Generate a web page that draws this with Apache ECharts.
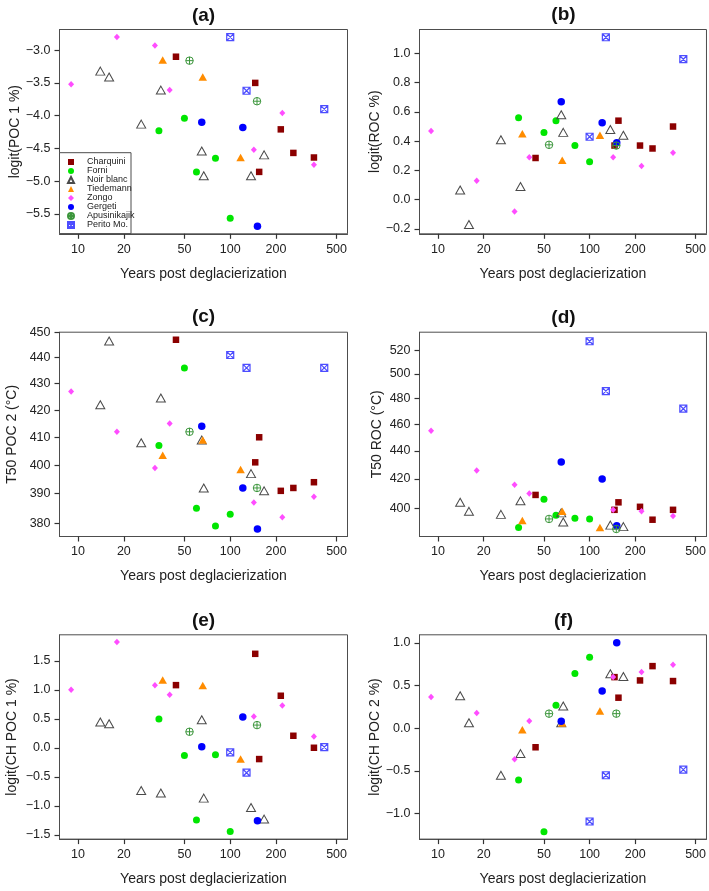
<!DOCTYPE html>
<html><head><meta charset="utf-8">
<script src="https://cdn.jsdelivr.net/npm/echarts@6/dist/echarts.min.js"></script>
<style>html,body{margin:0;padding:0;background:#fff}#c{width:709px;height:891px}</style>
</head><body><div id="c"></div>
<script>
// ---------- DATA ----------
const sites = ['Charquini', 'Forni', 'Noir blanc', 'Tiedemann', 'Zongo', 'Gergeti', 'Apusinikajik', 'Perito Mo.'];

// years post deglacierization per site
const xCharquini = [44, 146, 155, 215, 260, 355];
const xForni = [34, 50, 60, 80, 100];
const xNoirBlanc = [14, 16, 26, 35, 65, 67, 137, 167];
const xTiedemann = [36, 66, 117];
const xZongo = [9, 18, 32, 40, 143, 220, 355];
const xGergeti = [65, 121, 151];
const xApusinikajik = [54, 150];
const xPerito = [100, 128, 415];

// (a) logit(POC 1 %)
const aCharquini = [-3.10, -3.50, -4.86, -4.21, -4.57, -4.64];
const aForni = [-4.23, -4.04, -4.86, -4.65, -5.57];
const aNoirBlanc = [-3.32, -3.41, -4.13, -3.61, -4.54, -4.92, -4.92, -4.60];
const aTiedemann = [-3.15, -3.41, -4.64];
const aZongo = [-3.52, -2.80, -2.93, -3.61, -4.52, -3.96, -4.75];
const aGergeti = [-4.10, -4.18, -5.69];
const aApusinikajik = [-3.16, -3.78];
const aPerito = [-2.80, -3.62, -3.90];

// (b) logit(ROC %)
const bCharquini = [0.285, 0.37, 0.54, 0.37, 0.35, 0.50];
const bForni = [0.56, 0.46, 0.54, 0.37, 0.26];
const bNoirBlanc = [0.066, -0.17, 0.41, 0.09, 0.58, 0.46, 0.48, 0.44];
const bTiedemann = [0.45, 0.27, 0.44];
const bZongo = [0.47, 0.13, -0.08, 0.29, 0.29, 0.23, 0.32];
const bGergeti = [0.67, 0.525, 0.39];
const bApusinikajik = [0.375, 0.37];
const bPerito = [0.43, 1.11, 0.96];

// (c) T50 POC 2 (°C)
const cCharquini = [447, 401, 410, 391, 392, 394];
const cForni = [407, 436, 385, 379, 383];
const cNoirBlanc = [422, 446.5, 408, 424.5, 409, 392, 397, 391];
const cTiedemann = [403.5, 409, 398.5];
const cZongo = [427, 412, 399, 415, 387, 382, 389];
const cGergeti = [414, 392, 378];
const cApusinikajik = [412, 392];
const cPerito = [441, 436, 436];

// (d) T50 ROC (°C)
const dCharquini = [409, 399, 404, 401, 392.5, 399];
const dForni = [387.5, 406, 395.5, 393.5, 393];
const dNoirBlanc = [404, 398, 396, 405, 397, 391, 389, 388];
const dTiedemann = [392, 398, 387.5];
const dZongo = [455, 426, 416, 410, 399, 398, 395];
const dGergeti = [432, 420, 388.5];
const dApusinikajik = [393, 386.5];
const dPerito = [528, 486, 472];

// (e) logit(CH POC 1 %)
const eCharquini = [1.08, 1.62, -0.195, 0.897, 0.207, 0.0];
const eForni = [0.494, -0.132, -1.247, -0.12, -1.443];
const eNoirBlanc = [0.443, 0.414, -0.736, -0.78, 0.483, -0.868, -1.03, -1.23];
const eTiedemann = [1.167, 1.075, -0.195];
const eZongo = [1.0, 1.822, 1.08, 0.914, 0.54, 0.73, 0.195];
const eGergeti = [0.017, 0.529, -1.26];
const eApusinikajik = [0.276, 0.391];
const ePerito = [-0.08, -0.43, 0.011];

// (f) logit(CH POC 2 %)
const fCharquini = [-0.224, 0.598, 0.357, 0.559, 0.727, 0.552];
const fForni = [-0.606, -1.214, 0.267, 0.641, 0.832];
const fNoirBlanc = [0.38, 0.064, -0.552, -0.298, 0.064, 0.259, 0.637, 0.606];
const fTiedemann = [-0.02, 0.06, 0.20];
const fZongo = [0.364, 0.177, -0.365, 0.084, 0.60, 0.657, 0.743];
const fGergeti = [0.08, 0.435, 1.0];
const fApusinikajik = [0.17, 0.17];
const fPerito = [-1.094, -0.552, -0.485];

// tick labels
const xTicks = [10, 20, 50, 100, 200, 500];
const ticksA = [-5.5, -5.0, -4.5, -4.0, -3.5, -3.0];
const ticksB = [-0.2, 0.0, 0.2, 0.4, 0.6, 0.8, 1.0];
const ticksC = [380, 390, 400, 410, 420, 430, 440, 450];
const ticksD = [400, 420, 440, 460, 480, 500, 520];
const ticksE = [-1.5, -1.0, -0.5, 0.0, 0.5, 1.0, 1.5];
const ticksF = [-1.0, -0.5, 0.0, 0.5, 1.0];

const titles = ['(a)', '(b)', '(c)', '(d)', '(e)', '(f)'];
const yNames = ['logit(POC 1 %)', 'logit(ROC %)', 'T50 POC 2 (°C)', 'T50 ROC (°C)', 'logit(CH POC 1 %)', 'logit(CH POC 2 %)'];
const xName = 'Years post deglacierization';

// ---------- ASSEMBLY ----------
const siteX = [xCharquini, xForni, xNoirBlanc, xTiedemann, xZongo, xGergeti, xApusinikajik, xPerito];
const panelY = [
  [aCharquini, aForni, aNoirBlanc, aTiedemann, aZongo, aGergeti, aApusinikajik, aPerito],
  [bCharquini, bForni, bNoirBlanc, bTiedemann, bZongo, bGergeti, bApusinikajik, bPerito],
  [cCharquini, cForni, cNoirBlanc, cTiedemann, cZongo, cGergeti, cApusinikajik, cPerito],
  [dCharquini, dForni, dNoirBlanc, dTiedemann, dZongo, dGergeti, dApusinikajik, dPerito],
  [eCharquini, eForni, eNoirBlanc, eTiedemann, eZongo, eGergeti, eApusinikajik, ePerito],
  [fCharquini, fForni, fNoirBlanc, fTiedemann, fZongo, fGergeti, fApusinikajik, fPerito]
];
const panelTicks = [ticksA, ticksB, ticksC, ticksD, ticksE, ticksF];

// layout / style
const FONT = '"Liberation Sans", Arial, Helvetica, sans-serif';
const LINE = '#4d4d4d';
const TICK = '#333333';
const colLeft = [59.5, 419.5];
const rowTop = [29.5, 332.2, 634.8];
const gW = 288, gH = 204.3;
const yRange = [[-5.806, -2.684], [-0.233, 1.163], [375.5, 450.0], [381.7, 536.0], [-1.575, 1.948], [-1.300, 1.094]];
const yLog = [false, false, true, true, false, false];
const yNameGap = [37, 32, 40, 35.5, 40.5, 35.5];
const titleCY = [16.5, 15.5, 317.5, 318.5, 621.5, 621.5];
const X_MIN = 7.55, X_MAX = 590;

const circlePlus = 'path://M10,0 A10,10 0 1,1 10,20 A10,10 0 1,1 10,0 Z M10,0 L10,20 M0,10 L20,10';
const squareX = 'path://M0,0 L20,0 L20,20 L0,20 Z M0,0 L20,20 M20,0 L0,20';
const siteStyle = [
  { symbol: 'rect', size: 6.5, itemStyle: { color: '#8B0000' } },
  { symbol: 'circle', size: 7, itemStyle: { color: '#00E600' } },
  { symbol: 'triangle', size: [9, 8], itemStyle: { color: 'rgba(255,255,255,0)', borderColor: '#4a4a4a', borderWidth: 1 } },
  { symbol: 'triangle', size: [8.5, 7.5], itemStyle: { color: '#FF8C00' } },
  { symbol: 'diamond', size: [6, 6.5], itemStyle: { color: '#FF4DFF' } },
  { symbol: 'circle', size: 7.5, itemStyle: { color: '#0000FF' } },
  { symbol: circlePlus, size: 7.5, itemStyle: { color: 'rgba(255,255,255,0)', borderColor: '#3c963c', borderWidth: 1 } },
  { symbol: squareX, size: 7, itemStyle: { color: 'rgba(255,255,255,0)', borderColor: '#4d4dff', borderWidth: 1.2 } }
];

const fmt1 = v => (Math.round(v * 10) / 10).toFixed(1).replace('-', '\u2212');

const grid = [], xAxis = [], yAxis = [], series = [], title = [];
for (let p = 0; p < 6; p++) {
  const col = p % 2, row = Math.floor(p / 2);
  grid.push({ left: colLeft[col], top: rowTop[row], width: gW, height: gH, show: true, borderColor: LINE, borderWidth: 1 });
  xAxis.push({
    type: 'log', gridIndex: p, min: X_MIN, max: X_MAX,
    name: xName, nameLocation: 'middle', nameGap: 33,
    nameTextStyle: { fontSize: 14, color: '#222', fontFamily: FONT },
    axisLine: { show: true, onZero: false, lineStyle: { color: LINE, width: 1 } },
    axisTick: { show: true, length: 5, lineStyle: { color: TICK, width: 1.2 }, customValues: xTicks },
    axisLabel: { margin: 9, fontSize: 12.5, color: '#222', fontFamily: FONT, customValues: xTicks, formatter: v => String(Math.round(v)) },
    splitLine: { show: false }
  });
  yAxis.push({
    type: yLog[p] ? 'log' : 'value', gridIndex: p, min: yRange[p][0], max: yRange[p][1],
    name: yNames[p], nameLocation: 'middle', nameGap: yNameGap[p],
    nameTextStyle: { fontSize: 14, color: '#222', fontFamily: FONT },
    axisLine: { show: true, onZero: false, lineStyle: { color: LINE, width: 1 } },
    axisTick: { show: true, length: 5, lineStyle: { color: TICK, width: 1.2 }, customValues: panelTicks[p] },
    axisLabel: { margin: 9, fontSize: 12.5, color: '#222', fontFamily: FONT, customValues: panelTicks[p],
      formatter: yLog[p] ? (v => String(Math.round(v))) : fmt1 },
    splitLine: { show: false }
  });
  title.push({ text: titles[p], left: colLeft[col] + gW / 2, top: titleCY[p] - 10, textAlign: 'center', padding: 0,
    textStyle: { fontSize: 19, fontWeight: 'bold', color: '#111', fontFamily: FONT } });
  for (let s = 0; s < sites.length; s++) {
    const xs = siteX[s], ys = panelY[p][s];
    series.push({
      type: 'scatter', name: sites[s], xAxisIndex: p, yAxisIndex: p,
      data: xs.map((x, k) => [x, ys[k]]),
      symbol: siteStyle[s].symbol, symbolSize: siteStyle[s].size,
      itemStyle: Object.assign({ opacity: 1 }, siteStyle[s].itemStyle),
      z: 2 + s, silent: true
    });
  }
}

const chart = echarts.init(document.getElementById('c'), null, { renderer: 'canvas' });
chart.setOption({
  backgroundColor: '#fff',
  animation: false,
  title: title,
  grid: grid, xAxis: xAxis, yAxis: yAxis, series: series,
  legend: {
    data: sites, orient: 'vertical', left: 67, top: 157.5, padding: 0,
    itemWidth: 6, itemHeight: 6, itemGap: 0, selectedMode: false, z: 10,
    textStyle: { fontSize: 9, lineHeight: 8.4, color: '#222', fontFamily: FONT, padding: [0, 0, 0, 8] }
  },
  graphic: [{ type: 'rect', z: 5, shape: { x: 59.5, y: 152.7, width: 71.5, height: 80.9 },
    style: { fill: '#fff', stroke: LINE, lineWidth: 1 } }]
});
</script>
</body></html>
